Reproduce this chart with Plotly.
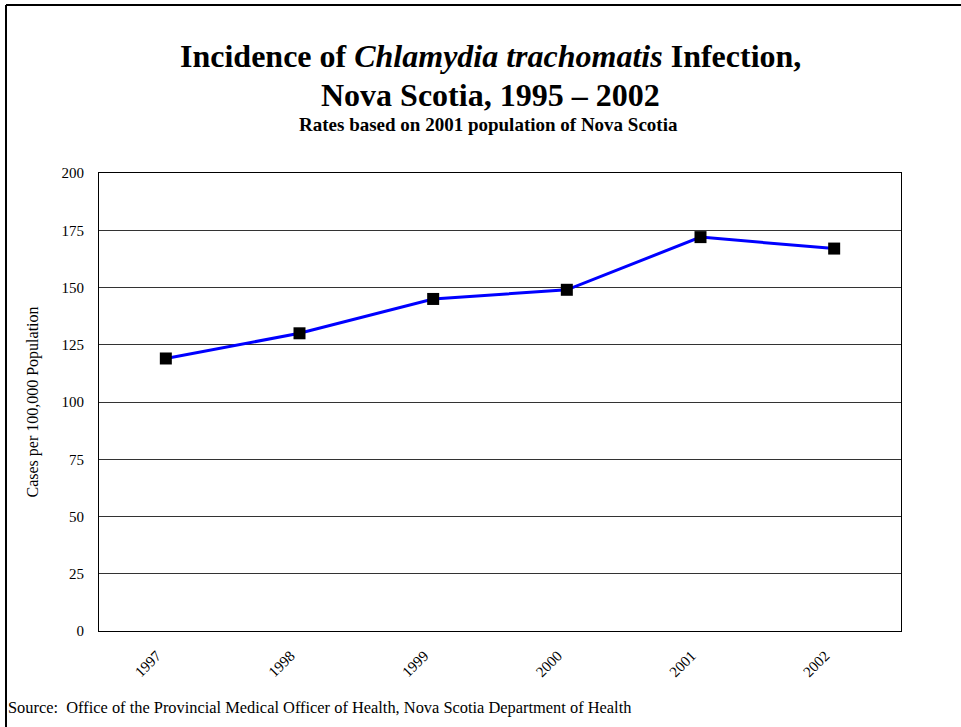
import plotly.graph_objects as go

years = ["1997", "1998", "1999", "2000", "2001", "2002"]
rates = [119, 130, 145, 149, 172, 167]
y_ticks = [0, 25, 50, 75, 100, 125, 150, 175, 200]

W, H = 961, 727
L, R, T, B = 99, 60, 173, 96
pw, ph = W - L - R, H - T - B

def px(x):
    return (x - L) / pw

def py(y):
    return (H - B - y) / ph

FONT = "Liberation Serif, Times New Roman, serif"

fig = go.Figure()
fig.add_trace(go.Scatter(
    x=years, y=rates, mode="lines+markers",
    line=dict(color="#0000FF", width=3),
    marker=dict(symbol="square", size=12, color="black"),
    showlegend=False, cliponaxis=False,
))

fig.update_layout(
    width=W, height=H,
    margin=dict(l=L, r=R, t=T, b=B),
    paper_bgcolor="white", plot_bgcolor="white",
    font=dict(family=FONT, color="black"),
    xaxis=dict(
        type="category", range=[-0.5, 5.5],
        showgrid=False, showline=True, linecolor="black", linewidth=1.2,
        mirror=True, ticks="", tickangle=-45,
        tickfont=dict(size=15, family=FONT),
        ticklabelshift=-9, ticklabelstandoff=9,
    ),
    yaxis=dict(
        range=[0, 200], tickvals=y_ticks,
        showgrid=True, gridcolor="#333333", gridwidth=1,
        showline=True, linecolor="black", linewidth=1.2, mirror=True,
        ticks="", tickfont=dict(size=15, family=FONT),
        ticklabelstandoff=11, zeroline=False,
        title=dict(text="Cases per 100,000 Population", font=dict(size=16, family=FONT), standoff=18),
    ),
    annotations=[
        dict(text="<b>Incidence of <i>Chlamydia trachomatis</i> Infection,</b>",
             x=px(490), y=py(56), xref="paper", yref="paper", showarrow=False,
             font=dict(size=32, family=FONT), xanchor="center", yanchor="middle"),
        dict(text="<b>Nova Scotia, 1995 – 2002</b>",
             x=px(490), y=py(95), xref="paper", yref="paper", showarrow=False,
             font=dict(size=32, family=FONT), xanchor="center", yanchor="middle"),
        dict(text="<b>Rates based on 2001 population of Nova Scotia</b>",
             x=px(488), y=py(124), xref="paper", yref="paper", showarrow=False,
             font=dict(size=19, family=FONT), xanchor="center", yanchor="middle"),
        dict(text="Source:  Office of the Provincial Medical Officer of Health, Nova Scotia Department of Health",
             x=px(6), y=py(707), xref="paper", yref="paper", showarrow=False,
             font=dict(size=16.4, family=FONT), xanchor="left", yanchor="middle"),
    ],
    shapes=[
        dict(type="line", xref="paper", yref="paper", x0=px(6), x1=px(961), y0=py(5), y1=py(5),
             line=dict(color="black", width=2)),
        dict(type="line", xref="paper", yref="paper", x0=px(6), x1=px(6), y0=py(5), y1=py(727),
             line=dict(color="black", width=2)),
    ],
)

fig.write_html("out.html", post_script="document.body.style.margin='0';",
               config={"displayModeBar": False})
